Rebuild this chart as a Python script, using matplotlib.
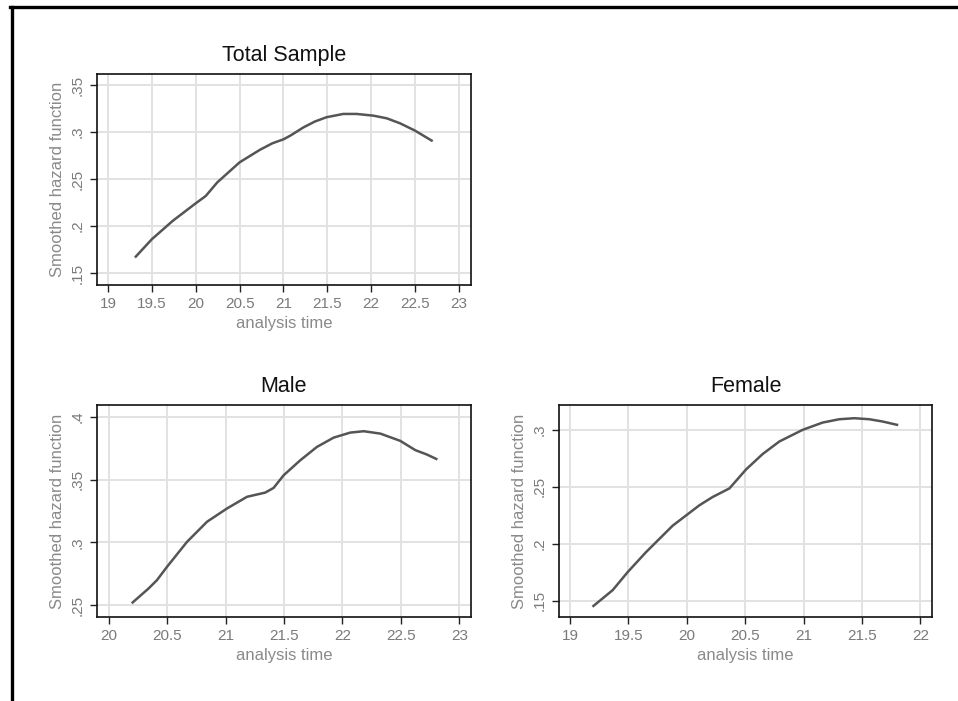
import matplotlib
matplotlib.use("Agg")
import matplotlib.pyplot as plt
from matplotlib.lines import Line2D

plt.rcParams['font.family'] = ['Liberation Sans', 'DejaVu Sans']

# smoothed hazard estimates
totalTime = [19.317, 19.5, 19.736, 20.0, 20.114, 20.247, 20.5, 20.729, 20.874,
             21.0, 21.085, 21.224, 21.357, 21.490, 21.681, 21.833, 22.023, 22.175,
             22.327, 22.498, 22.688]
totalHazard = [.1674, .1859, .2053, .2241, .2319, .2465, .2677, .2809, .2880,
               .2922, .2965, .3047, .3111, .3157, .3192, .3192, .3174, .3146,
               .3093, .3015, .2909]

maleTime = [20.205, 20.342, 20.413, 20.499, 20.670, 20.841, 21.012, 21.183, 21.340,
            21.411, 21.497, 21.640, 21.782, 21.925, 22.067, 22.182, 22.324, 22.495,
            22.624, 22.723, 22.803]
maleHazard = [.2521, .2633, .2699, .2805, .3004, .3164, .3270, .3363, .3397,
              .3434, .3535, .3655, .3761, .3835, .3875, .3886, .3867, .3809,
              .3735, .3700, .3665]

femaleTime = [19.200, 19.365, 19.494, 19.651, 19.879, 20.108, 20.222, 20.365, 20.507,
              20.650, 20.793, 20.992, 21.164, 21.306, 21.435, 21.563, 21.677, 21.800]
femaleHazard = [.1454, .1593, .1752, .1927, .2159, .2338, .2411, .2486, .2652,
                .2788, .2898, .3000, .3064, .3093, .3102, .3093, .3073, .3044]

totalXTicks = [19, 19.5, 20, 20.5, 21, 21.5, 22, 22.5, 23]
totalYTicks = [.15, .2, .25, .3, .35]
maleXTicks = [20, 20.5, 21, 21.5, 22, 22.5, 23]
maleYTicks = [.25, .3, .35, .4]
femaleXTicks = [19, 19.5, 20, 20.5, 21, 21.5, 22]
femaleYTicks = [.15, .2, .25, .3]


def stataLabel(v):
    # stata drops the leading zero: .25, .3
    s = ('%g' % v)
    if s.startswith('0.'):
        s = s[1:]
    return s


W, H = 958, 701
fig = plt.figure(figsize=(W / 100, H / 100), dpi=100)


def makeAxes(left, top, right, bottom):
    return fig.add_axes([left / W, 1 - bottom / H, (right - left) / W, (bottom - top) / H])


def drawPanel(ax, title, xs, ys, xticks, yticks, xlim, ylim):
    ax.grid(True, color='#e2e2e2', linewidth=1.4)
    ax.set_axisbelow(True)
    ax.plot(xs, ys, color='#555555', linewidth=1.8)
    ax.set_xlim(*xlim)
    ax.set_ylim(*ylim)
    ax.set_xticks(xticks)
    ax.set_xticklabels([stataLabel(t) for t in xticks])
    ax.set_yticks(yticks)
    ax.set_yticklabels([stataLabel(t) for t in yticks], rotation=90, va='center')
    ax.tick_params(length=5, width=1, color='#222222', labelcolor='#7a7a7a', labelsize=11)
    ax.tick_params(axis='y', pad=4)
    for sp in ax.spines.values():
        sp.set_linewidth(1.2)
        sp.set_color('#111111')
    ax.set_title(title, fontsize=15.5, color='#111111', pad=9.5)
    ax.set_xlabel('analysis time', fontsize=12, color='#8a8a8a', labelpad=3.5)
    ax.set_ylabel('Smoothed hazard function', fontsize=12, color='#8a8a8a', labelpad=4)


ax1 = makeAxes(97, 74, 471, 285)
drawPanel(ax1, 'Total Sample', totalTime, totalHazard, totalXTicks, totalYTicks,
          (18.875, 23.137), (.1372, .3617))

ax2 = makeAxes(97, 405, 471, 617)
drawPanel(ax2, 'Male', maleTime, maleHazard, maleXTicks, maleYTicks,
          (19.9, 23.1), (.2405, .4095))

ax3 = makeAxes(559, 405, 932, 617)
drawPanel(ax3, 'Female', femaleTime, femaleHazard, femaleXTicks, femaleYTicks,
          (18.905, 22.1), (.1357, .3218))

# partial black frame at top and left
fig.add_artist(Line2D([11.5 / W, 11.5 / W], [0, 1 - 6.5 / H], transform=fig.transFigure,
                      color='black', linewidth=2.4))
fig.add_artist(Line2D([10 / W, 1], [1 - 6.5 / H, 1 - 6.5 / H], transform=fig.transFigure,
                      color='black', linewidth=2.4))

fig.savefig('out.png', dpi=100, facecolor='white')
